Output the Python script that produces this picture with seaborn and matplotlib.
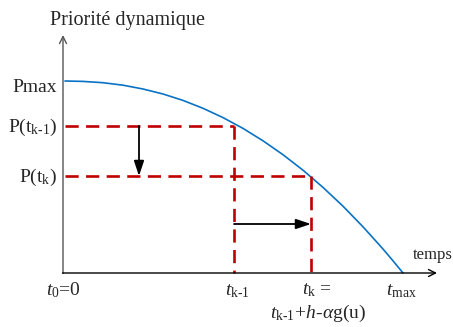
import matplotlib
matplotlib.use("Agg")
import matplotlib.pyplot as plt
import seaborn as sns
import pandas as pd

# ---- data (units: time from t0, priority above axis) ----
curve_t = [2, 20, 40, 60, 80, 100, 120, 140, 160, 180, 200, 220, 240, 260, 280, 300, 320, 330, 340]
curve_p = [192, 191.6, 190.3, 187.8, 184, 179, 172.6, 164.7, 155.4, 144.6, 132.2, 118.3, 102.8,
           85.6, 66.8, 46.2, 24, 12.2, 0]
t_km1, t_k, t_max = 171, 248, 340
p_max, p_km1, p_k = 192, 147, 97
arrow_down_t = 76
arrow_right_p = 49

title_text = "Priorité dynamique"
x_axis_text = "temps"
y_labels = ["Pmax", r"$\mathrm{P(t_{\text{k-1}})}$", r"$\mathrm{P(t_{k})}$"]
x_labels = [r"$t_0$=0", r"$t_{\text{k-1}}$", r"$t_{\mathrm{k}}$ =", r"$t_{\mathrm{max}}$"]
tk_formula = r"$t_{\text{k-1}}\!+\!h\text{-}\alpha\mathrm{g(u)}$"

sns.set_style("white")
plt.rcParams["font.family"] = ["Liberation Serif", "DejaVu Serif"]
plt.rcParams["mathtext.fontset"] = "custom"
plt.rcParams["mathtext.rm"] = "Liberation Serif"
plt.rcParams["mathtext.it"] = "Liberation Serif:italic"
plt.rcParams["mathtext.bf"] = "Liberation Serif:bold"

fig = plt.figure(figsize=(4.53, 3.27), dpi=100)
ax = fig.add_axes([0, 0, 1, 1])
ax.set_xlim(-63, 390)
ax.set_ylim(-54, 273)
ax.axis("off")

df = pd.DataFrame({"t": curve_t, "p": curve_p})
sns.lineplot(data=df, x="t", y="p", ax=ax, color="#0a72c4", lw=1.2, legend=False)

red = "#c00000"
ls = (0, (5.0, 2.8))
lw_r = 1.9
ax.plot([2, t_km1], [p_km1, p_km1], color=red, lw=lw_r, linestyle=ls)
ax.plot([t_km1, t_km1], [p_km1, 0], color=red, lw=lw_r, linestyle=ls)
ax.plot([2, t_k], [p_k, p_k], color=red, lw=lw_r, linestyle=ls)
ax.plot([t_k, t_k], [p_k, 0], color=red, lw=lw_r, linestyle=ls)

# axes arrows
ax.annotate("", xy=(0, 238), xytext=(0, -0.5),
            arrowprops=dict(arrowstyle="->,head_length=0.5,head_width=0.25", color="#555555", lw=1.0,
                            shrinkA=0, shrinkB=0))
ax.annotate("", xy=(374, 0), xytext=(-0.5, 0),
            arrowprops=dict(arrowstyle="->,head_length=0.5,head_width=0.25", color="black", lw=1.0,
                            shrinkA=0, shrinkB=0))

# black filled arrows
ax.annotate("", xy=(arrow_down_t, p_k), xytext=(arrow_down_t, p_km1),
            arrowprops=dict(arrowstyle="-|>,head_length=0.9,head_width=0.3", color="black", lw=1.3,
                            shrinkA=0, shrinkB=0))
ax.annotate("", xy=(t_k, arrow_right_p), xytext=(t_km1, arrow_right_p),
            arrowprops=dict(arrowstyle="-|>,head_length=0.9,head_width=0.3", color="black", lw=1.3,
                            shrinkA=0, shrinkB=0))

# texts
ax.text(64, 253, title_text, ha="center", va="center", fontsize=14.5)
ax.text(350, 18, x_axis_text, ha="left", va="center", fontsize=12)
for lab, p in zip(y_labels, [p_max, p_km1, p_k]):
    ax.text(-6, p - 6 if lab == "Pmax" else p - 1, lab, ha="right", va="center", fontsize=14)

ax.text(0, -17, x_labels[0], ha="center", va="center", fontsize=14)
ax.text(t_km1 + 3, -18, x_labels[1], ha="center", va="center", fontsize=14)
ax.text(t_k + 6, -17, x_labels[2], ha="center", va="center", fontsize=14)
ax.text(t_max - 2, -18, x_labels[3], ha="center", va="center", fontsize=14)
ax.text(t_k + 7, -40, tk_formula, ha="center", va="center", fontsize=14)

fig.savefig("out.png", dpi=100)
